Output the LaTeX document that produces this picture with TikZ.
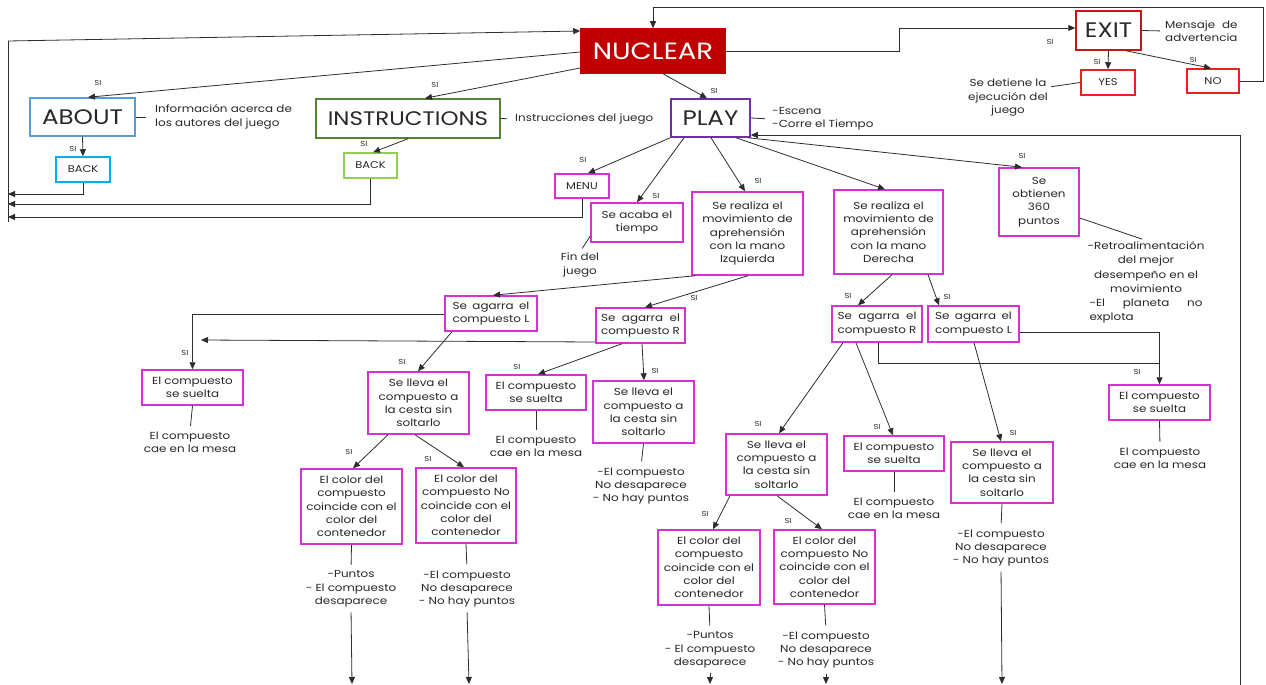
\documentclass[tikz,border=0pt]{standalone}
\usepackage{fontspec}
\setmainfont{Poppins}[FakeStretch=1.17]
\usetikzlibrary{arrows.meta}
\definecolor{nucred}{RGB}{192,0,0}
\definecolor{exred}{RGB}{200,20,20}
\definecolor{ynred}{RGB}{240,30,30}
\definecolor{aboutblue}{RGB}{91,155,213}
\definecolor{backblue}{RGB}{0,176,240}
\definecolor{instrgreen}{RGB}{84,130,53}
\definecolor{backgreen}{RGB}{146,208,80}
\definecolor{playpurple}{RGB}{112,48,160}
\definecolor{mag}{RGB}{214,48,214}
\definecolor{tgray}{RGB}{40,40,40}
\definecolor{lgray}{RGB}{45,45,45}
\newlength\jwd
\newcommand\justtwo[2]{\settowidth\jwd{#2}\makebox[\jwd][s]{#1}\\#2}
\begin{document}
\begin{tikzpicture}[x=1pt,y=-1pt,
  txt/.style={font=\fontsize{10.2}{13.3}\selectfont, text=tgray, align=center, inner sep=1pt},
  box/.style={draw, line width=1.5pt, txt, fill=white},
  mbox/.style={box, draw=mag},
  big/.style={font=\fontsize{21}{24}\selectfont},
  small/.style={font=\fontsize{9.8}{11}\selectfont},
  si/.style={font=\fontsize{7.2}{8}\selectfont, text=tgray, inner sep=0pt},
  ln/.style={draw=lgray, line width=0.8pt},
  arr/.style={ln, -{Triangle[length=7pt,width=6pt]}},
]
\useasboundingbox (0,0) rectangle (1266,685);

% ---- top level boxes
\node[box, draw=nucred, fill=nucred, text=white, minimum width=144, minimum height=44, font=\fontsize{23.5}{26}\selectfont] (nuclear) at (653,51) {NUCLEAR};
\node[box, draw=exred, minimum width=65, minimum height=39, big] (exit) at (1108.5,30.5) {EXIT};
\node[box, draw=ynred, minimum width=54, minimum height=25, small] (yes) at (1108,82.5) {YES};
\node[box, draw=ynred, minimum width=52, minimum height=24, small] (no) at (1213,81) {NO};
\node[box, draw=aboutblue, minimum width=105, minimum height=38, big] (about) at (82.5,117) {ABOUT};
\node[box, draw=backblue, minimum width=54, minimum height=25, small] (backA) at (83,169.5) {BACK};
\node[box, draw=instrgreen, minimum width=184, minimum height=39, font=\fontsize{19.6}{22}\selectfont] (instr) at (408,118.5) {INSTRUCTIONS};
\node[box, draw=backgreen, minimum width=53, minimum height=25, small] (backI) at (370.5,165.5) {BACK};
\node[box, draw=playpurple, minimum width=79, minimum height=38, big] (play) at (710.5,118) {PLAY};

% ---- play level
\node[mbox, minimum width=54, minimum height=24, small] (menu) at (582,186) {MENU};
\node[mbox, minimum width=92, minimum height=39] (acaba) at (637,222.5) {Se acaba el\\tiempo};
\node[mbox, minimum width=111, minimum height=83] (izq) at (747.5,233.5) {Se realiza el\\movimiento de\\aprehensión\\con la mano\\Izquierda};
\node[mbox, minimum width=109, minimum height=84] (der) at (888.5,232) {Se realiza el\\movimiento de\\aprehensión\\con la mano\\Derecha};
\node[mbox, minimum width=80, minimum height=68] (obt) at (1039,202) {Se\\obtienen\\360\\puntos};

% ---- left hand branch
\node[mbox, minimum width=92, minimum height=35] (agL1) at (491,313.5) {\justtwo{Se agarra el}{compuesto L}};
\node[mbox, minimum width=89, minimum height=35] (agR1) at (640.5,325.5) {\justtwo{Se agarra el}{compuesto R}};
\node[mbox, minimum width=101, minimum height=35] (suelta1) at (192.5,387.5) {El compuesto\\se suelta};
\node[mbox, minimum width=101, minimum height=62] (lleva1) at (418.5,403) {Se lleva el\\compuesto a\\la cesta sin\\soltarlo};
\node[mbox, minimum width=100, minimum height=35] (suelta2) at (536,392.5) {El compuesto\\se suelta};
\node[mbox, minimum width=101, minimum height=62] (lleva2) at (643.5,412) {Se lleva el\\compuesto a\\la cesta sin\\soltarlo};
\node[mbox, minimum width=101, minimum height=75] (coin1) at (351.5,506.5) {El color del\\compuesto\\coincide con el\\color del\\contenedor};
\node[mbox, minimum width=100, minimum height=75] (nocoin1) at (466,505.5) {El color del\\compuesto No\\coincide con el\\color del\\contenedor};

% ---- right hand branch
\node[mbox, minimum width=90, minimum height=36] (agR2) at (877,324) {\justtwo{Se agarra el}{compuesto R}};
\node[mbox, minimum width=91, minimum height=36] (agL2) at (973.5,324) {\justtwo{Se agarra el}{compuesto L}};
\node[mbox, minimum width=101, minimum height=35] (suelta4) at (1159.5,402.5) {El compuesto\\se suelta};
\node[mbox, minimum width=101, minimum height=61] (lleva3) at (776.5,464.5) {Se lleva el\\compuesto a\\la cesta sin\\soltarlo};
\node[mbox, minimum width=100, minimum height=35] (suelta3) at (894,453.5) {El compuesto\\se suelta};
\node[mbox, minimum width=102, minimum height=61] (lleva4) at (1002,472.5) {Se lleva el\\compuesto a\\la cesta sin\\soltarlo};
\node[mbox, minimum width=102, minimum height=75] (coin2) at (709,567.5) {El color del\\compuesto\\coincide con el\\color del\\contenedor};
\node[mbox, minimum width=101, minimum height=74] (nocoin2) at (824.5,567) {El color del\\compuesto No\\coincide con el\\color del\\contenedor};

% ---- free texts
\node[txt, anchor=west, align=left] (infoA) at (154,117) {Información acerca de\\los autores del juego};
\node[txt, anchor=west] (infoI) at (514,119) {Instrucciones del juego};
\node[txt, anchor=west, align=left] (infoP) at (771,119) {-Escena\\-Corre el Tiempo};
\node[txt, anchor=west, align=left] (infoE) at (1164,31) {\justtwo{Mensaje de}{advertencia}};
\node[txt] (yesT) at (1008,97.5) {Se detiene la\\ejecución del\\juego};
\node[txt] (fin) at (580,265) {Fin del\\juego};
\node[txt] (cae1) at (190,442.5) {El compuesto\\cae en la mesa};
\node[txt] (cae2) at (536,446.5) {El compuesto\\cae en la mesa};
\node[txt] (cae3) at (894,508.5) {El compuesto\\cae en la mesa};
\node[txt] (cae4) at (1160,458.5) {El compuesto\\cae en la mesa};
\node[txt] (resL2) at (641,486) {-El compuesto\\No desaparece\\- No hay puntos};
\node[txt] (resC1) at (351,589) {-Puntos\\- El compuesto\\desaparece};
\node[txt] (resN1) at (467,589) {-El compuesto\\No desaparece\\- No hay puntos};
\node[txt] (resL4) at (1001,548) {-El compuesto\\No desaparece\\- No hay puntos};
\node[txt] (resC2) at (710,650) {-Puntos\\- El compuesto\\desaparece};
\node[txt] (resN2) at (826,650) {-El compuesto\\No desaparece\\- No hay puntos};
\node[txt, font=\fontsize{10.2}{14.2}\selectfont] (retro) at (1146,282.5) {-Retroalimentación\\del mejor\\desempeño en el\\movimiento\\\makebox[113pt][s]{-El planeta no}\\\makebox[113pt][l]{explota}};

% ---- named free ends
\coordinate (Ltop) at (8,41);
\coordinate (Lbot) at (8,222);
\coordinate (lb1) at (8,194);
\coordinate (lb2) at (8,204);
\coordinate (lb3) at (8,217);
\coordinate (loopB) at (1240,685);
\coordinate (freeL) at (201,340);
\coordinate (b1) at (352,684);
\coordinate (b2) at (469,684);
\coordinate (b3) at (710,684);
\coordinate (b4) at (826,684);
\coordinate (b5) at (1002,684);

% ---- connectors
\draw[arr] (Ltop) -- (nuclear.west |- 0,31);
\draw[ln] (Ltop) -- (Lbot);
\draw[arr] (backA.south) |- (lb1);
\draw[arr] (backI.south) |- (lb2);
\draw[arr] (menu.south) |- (lb3);
\draw[arr] (nuclear.west |- 0,52) -- (88,0 |- about.north);
\draw[arr] (nuclear.west |- 0,68) -- (425,0 |- instr.north);
\draw[arr] (663,0 |- nuclear.south) -- (707,0 |- play.north);
\draw[arr] (about.south) -- (backA.north);
\draw[arr] (408,0 |- instr.south) -- (373,0 |- backI.north);
\draw[arr] (nuclear.east) -| (899,28) -- (exit.west |- 0,28);
\draw[arr] (exit.south) -- (yes.north);
\draw[arr] (1126,0 |- exit.south) -- (1211,0 |- no.north);
\draw[arr] (no.east) -| (1263,7) -| (nuclear.north);
\draw[arr] (loopB) |- (play.east |- 0,135);
\draw[ln, shorten >=8pt] (about.east) -- (infoA.west);
\draw[ln, shorten >=7pt] (instr.east) -- (infoI.west);
\draw[ln, shorten >=6pt] (play.east) -- (infoP.west);
\draw[ln, shorten >=4pt] (exit.east) -- (infoE.west);
\draw[ln, shorten >=2pt] (yes.west) -- (yesT.east |- 0,87);

\draw[arr] (play.south west) -- (588,0 |- menu.north);
\draw[arr] (684,0 |- play.south) -- (637,0 |- acaba.north);
\draw[arr] (711,0 |- play.south) -- (745,0 |- izq.north);
\draw[arr] (736,0 |- play.south) -- (885,0 |- der.north);
\draw[arr] (748,0 |- play.south) -- (1022,0 |- obt.north);
\draw[ln, shorten >=4pt] (acaba.west |- 0,236) -- (fin.north);
\draw[ln, shorten >=4pt] (obt.east |- 0,218) -- (retro.north);

\draw[arr] (695,0 |- izq.south) -- (493,0 |- agL1.north);
\draw[arr] (748,0 |- izq.south) -- (645,0 |- agR1.north);
\draw[arr] (agL1.west |- 0,314) -| (suelta1.north);
\draw[arr] (agR1.west |- 0,342) -- (freeL);
\draw[arr] (452,0 |- agL1.south) -- (418,0 |- lleva1.north);
\draw[arr] (622,0 |- agR1.south) -- (538,0 |- suelta2.north);
\draw[arr] (642,0 |- agR1.south) -- (644,0 |- lleva2.north);
\draw[ln, shorten >=5pt] (suelta1.south) -- (cae1.north);
\draw[ln, shorten >=5pt] (suelta2.south) -- (cae2.north);
\draw[ln, shorten >=5pt] (lleva2.south) -- (resL2.north);
\draw[arr] (388,0 |- lleva1.south) -- (353,0 |- coin1.north);
\draw[arr] (415,0 |- lleva1.south) -- (464,0 |- nocoin1.north);
\draw[ln, shorten >=5pt] (coin1.south) -- (resC1.north);
\draw[ln, shorten >=5pt] (nocoin1.south) -- (resN1.north);
\draw[arr, shorten <=4pt] (resC1.south) -- (b1);
\draw[arr, shorten <=4pt] (resN1.south) -- (b2);

\draw[arr] (892,0 |- der.south) -- (858,0 |- agR2.north);
\draw[arr] (928,0 |- der.south) -- (939,0 |- agL2.north);
\draw[arr] (agL2.east |- 0,332) -| (suelta4.north);
\draw[ln] (878,0 |- agR2.south) |- (suelta4.north |- 0,363);
\draw[arr] (843,0 |- agR2.south) -- (779,0 |- lleva3.north);
\draw[arr] (856,0 |- agR2.south) -- (893,0 |- suelta3.north);
\draw[arr] (974,0 |- agL2.south) -- (1001,0 |- lleva4.north);
\draw[ln, shorten >=5pt] (suelta4.south) -- (cae4.north);
\draw[ln, shorten >=5pt] (suelta3.south) -- (cae3.north);
\draw[ln, shorten >=5pt] (lleva4.south) -- (resL4.north);
\draw[arr, shorten <=4pt] (resL4.south) -- (b5);
\draw[arr] (730,0 |- lleva3.south) -- (713,0 |- coin2.north);
\draw[arr] (777,0 |- lleva3.south) -- (822,0 |- nocoin2.north);
\draw[ln, shorten >=5pt] (coin2.south) -- (resC2.north);
\draw[ln, shorten >=5pt] (nocoin2.south) -- (resN2.north);
\draw[arr, shorten <=4pt] (resC2.south) -- (b3);
\draw[arr, shorten <=4pt] (resN2.south) -- (b4);

% ---- SI labels
\foreach \p/\n in {{98,83}/s1,{435,85}/s2,{714,91}/s3,{73,149}/s4,{364,144}/s5,{1050,42}/s6,{1097,62}/s7,{1193,60}/s8,{583,160}/s9,{656,196}/s10,{758,181}/s11,{1022,156}/s12,{694,298}/s13,{185,353}/s14,{402,362}/s15,{517,367}/s16,{655,371}/s17,{349,452}/s18,{428,459}/s19,{848,296}/s20,{947,297}/s21,{1137,372}/s22,{758,424}/s23,{877,427}/s24,{1013,433}/s25,{705,514}/s26,{788,521}/s27}
  \node[si] (\n) at (\p) {SI};
\end{tikzpicture}
\end{document}
